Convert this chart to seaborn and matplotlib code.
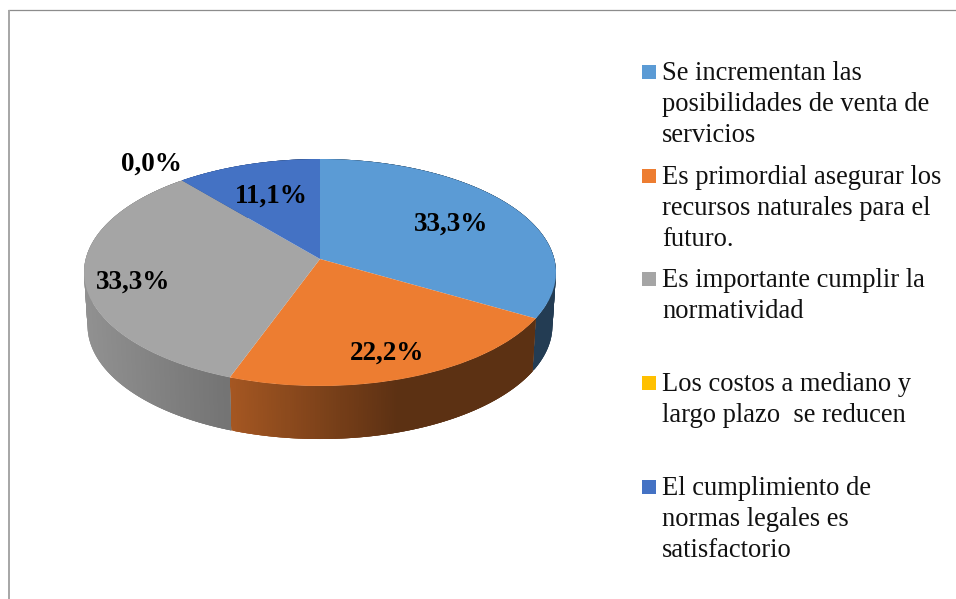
import numpy as np
import matplotlib
matplotlib.use("Agg")
import matplotlib.pyplot as plt
from matplotlib.patches import Rectangle
from matplotlib.transforms import Transform
import seaborn as sns

categories = [
    "Se incrementan las\nposibilidades de venta de\nservicios",
    "Es primordial asegurar los\nrecursos naturales para el\nfuturo.",
    "Es importante cumplir la\nnormatividad",
    "Los costos a mediano y\nlargo plazo  se reducen",
    "El cumplimiento de\nnormas legales es\nsatisfactorio",
]
values = [33.3, 22.2, 33.3, 0.0, 11.1]
hex_colors = ["#5b9bd5", "#ed7d31", "#a5a5a5", "#ffc000", "#4472c4"]

# where things sit in the picture (pixels)
label_pos = [(451, 224), (387, 353), (133, 282), (151, 164), (271, 196)]
legend_y = [65, 169, 272, 376, 480]

CX, CY = 320, 259
BX, BY, K = 234.3, 111.9, 0.119
DEPTH = 53


class Tilt(Transform):
    # tilts the flat pie so it looks like a disc seen from above
    input_dims = 2
    output_dims = 2
    is_separable = False

    def transform_non_affine(self, xy):
        xy = np.asarray(xy, dtype=float)
        w = 1 + K * xy[:, 1]
        return np.column_stack([CX + BX * xy[:, 0] / w, CY - BY * xy[:, 1] / w])


def tilt_point(theta, shrink=1.0, drop=0):
    u, v = np.cos(np.radians(theta)), np.sin(np.radians(theta))
    w = 1 + K * v
    return CX + shrink * BX * u / w, CY - BY * v / w + drop


sns.set_theme(style="white")
plt.rcParams["font.family"] = ["Liberation Serif", "DejaVu Serif"]
palette = sns.color_palette(hex_colors)

fig = plt.figure(figsize=(9.56, 5.99), dpi=100)
ax = fig.add_axes([0, 0, 1, 1])

wedges, _ = ax.pie(values, colors=palette, startangle=90, counterclock=False,
                   wedgeprops={"linewidth": 0})
ax.set_aspect("auto")
ax.set_xlim(0, 956)
ax.set_ylim(599, 0)
ax.axis("off")

tilt = Tilt()
for wedge in wedges:
    wedge.set_transform(tilt + ax.transData)
    wedge.set_clip_on(False)
    wedge.set_zorder(5)

# side wall of the disc, darker towards the right
for wedge, color in zip(wedges, palette):
    if wedge.theta2 - wedge.theta1 <= 0:
        continue
    steps = np.arange(wedge.theta1, wedge.theta2, 0.5)
    steps = np.append(steps, wedge.theta2)
    for a, b in zip(steps[:-1], steps[1:]):
        # each strip runs a bit into the next one so no seams show
        end = min(b + 1.0, wedge.theta2)
        x1, y1 = tilt_point(a)
        x2, y2 = tilt_point(end)
        x3, y3 = tilt_point(end, 0.985, DEPTH)
        x4, y4 = tilt_point(a, 0.985, DEPTH)
        shade = np.interp((x1 + x2) / 2, [84, 230, 400, 556], [0.88, 0.70, 0.39, 0.39])
        c = tuple(np.array(color) * shade)
        ax.fill([x1, x2, x3, x4], [y1, y2, y3, y4], facecolor=c, lw=0, zorder=2)

for v, (x, y) in zip(values, label_pos):
    ax.text(x, y, f"{v:.1f}%".replace(".", ","), ha="center", va="center",
            fontsize=19.5, fontweight="bold", color="black", zorder=6)

for name, color, y in zip(categories, palette, legend_y):
    ax.add_patch(Rectangle((642, y), 14, 14, color=color, lw=0))
    ax.text(662, y - 4, name, ha="left", va="top", fontsize=19.1,
            linespacing=1.32, color="#111111")

# frame of the original chart, cut off by the crop
ax.plot([8, 956], [10, 10], color="#8c8c8c", lw=0.9, solid_capstyle="butt")
ax.plot([9, 9], [10, 599], color="#a6a6a6", lw=1.4, solid_capstyle="butt")

fig.savefig("out.png", dpi=100, facecolor="white")
